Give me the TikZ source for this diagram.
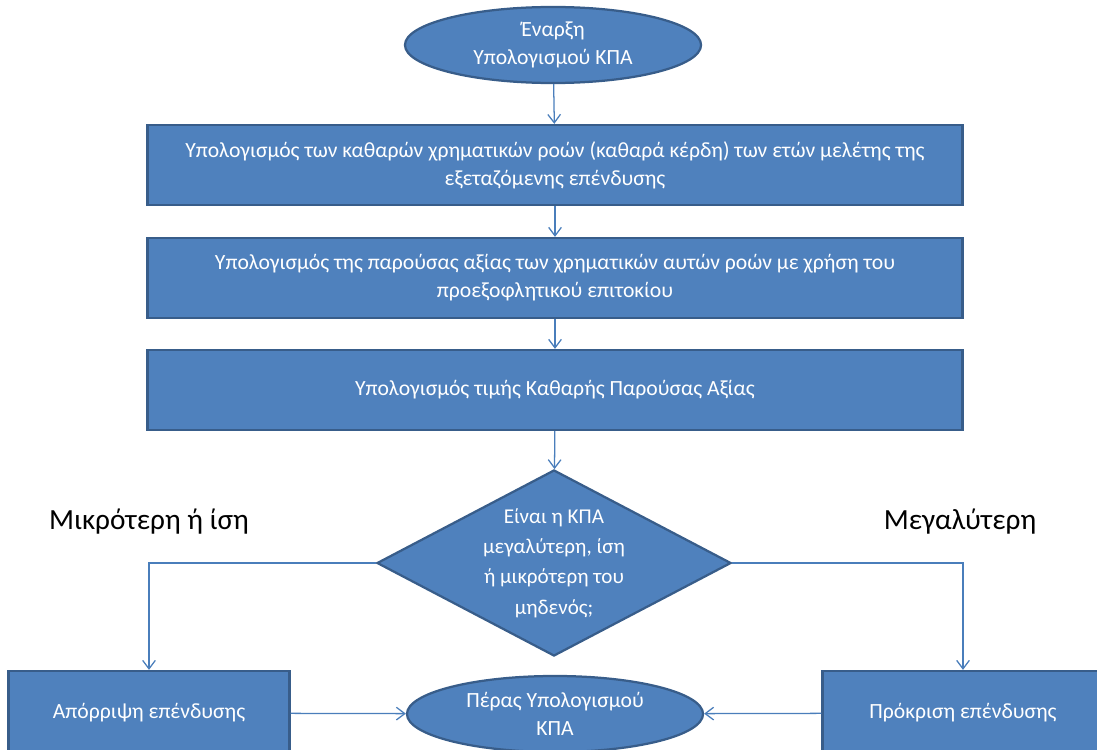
\documentclass[tikz,border=0pt]{standalone}
\usepackage{fontspec}
\setmainfont{Carlito}
\usetikzlibrary{shapes.geometric}
\usetikzlibrary{positioning}
\usetikzlibrary{arrows.meta}
\definecolor{boxfill}{HTML}{4F81BD}
\definecolor{boxdraw}{HTML}{385D8A}
\definecolor{arrowcol}{HTML}{4A7EBB}
\tikzset{
    stepbox/.style = {rectangle, line width=1.6pt, draw=boxdraw, fill=boxfill, align=center, text=white, inner sep=2pt, font=\fontsize{15.4}{20}\selectfont},
    endnode/.style = {ellipse, line width=1.6pt, draw=boxdraw, fill=boxfill, align=center, text=white, inner sep=0pt, minimum width=7.4cm, minimum height=1.9cm, font=\fontsize{15.4}{20}\selectfont},
    decnode/.style = {diamond, line width=1.6pt, draw=boxdraw, fill=boxfill, align=center, text=white, inner sep=0pt, aspect=1.9, minimum width=8.85cm, minimum height=4.65cm, font=\fontsize{15}{21.5}\selectfont},
    labelnode/.style = {align=center, text=black, font=\fontsize{20.8}{24}\selectfont},
    edgea/.style = {-{Straight Barb[length=6pt,width=9pt]}, line width=0.9pt, arrowcol},
}

\begin{document}
\begin{tikzpicture}[x=0.025cm,y=-0.025cm]
\useasboundingbox (0,0) rectangle (1097,749);
\clip (0,0) rectangle (1097,749);

\node[endnode] at (553, 45) (start) {Έναρξη\\Υπολογισμού ΚΠΑ};
\node[stepbox, minimum width=20.375cm, minimum height=2cm] at (555,165) (cash) {Υπολογισμός των καθαρών χρηματικών ροών (καθαρά κέρδη) των ετών μελέτης της\\εξεταζόμενης επένδυσης};
\node[stepbox, minimum width=20.375cm, minimum height=2cm] at (555,278) (pv) {Υπολογισμός της παρούσας αξίας των χρηματικών αυτών ροών με χρήση του\\προεξοφλητικού επιτοκίου};
\node[stepbox, minimum width=20.375cm, minimum height=2cm] at (555,390) (npv) {Υπολογισμός τιμής Καθαρής Παρούσας Αξίας};
\node[decnode] at (554,563) (dec) {Είναι η ΚΠΑ\\μεγαλύτερη, ίση\\ή μικρότερη του\\μηδενός;};
\node[stepbox, minimum width=7.025cm, minimum height=2.1cm] at (149,713) (rej) {Απόρριψη επένδυσης};
\node[stepbox, minimum width=7.025cm, minimum height=2.1cm] at (963,713) (acc) {Πρόκριση επένδυσης};
\node[endnode] at (555,714) (stop) {Πέρας Υπολογισμού\\ΚΠΑ};

\node[labelnode] at (149,522) (less) {Μικρότερη ή ίση};
\node[labelnode] at (960,522) (more) {Μεγαλύτερη};

\draw[edgea] (start) -- (cash);
\draw[edgea] (cash) -- (pv);
\draw[edgea] (pv) -- (npv);
\draw[edgea] (npv) -- (dec);
\draw[edgea] (dec.west) -| (rej.north);
\draw[edgea] (dec.east) -| (acc.north);
\draw[edgea] (rej) -- (stop);
\draw[edgea] (acc) -- (stop);

\end{tikzpicture}
\end{document}
